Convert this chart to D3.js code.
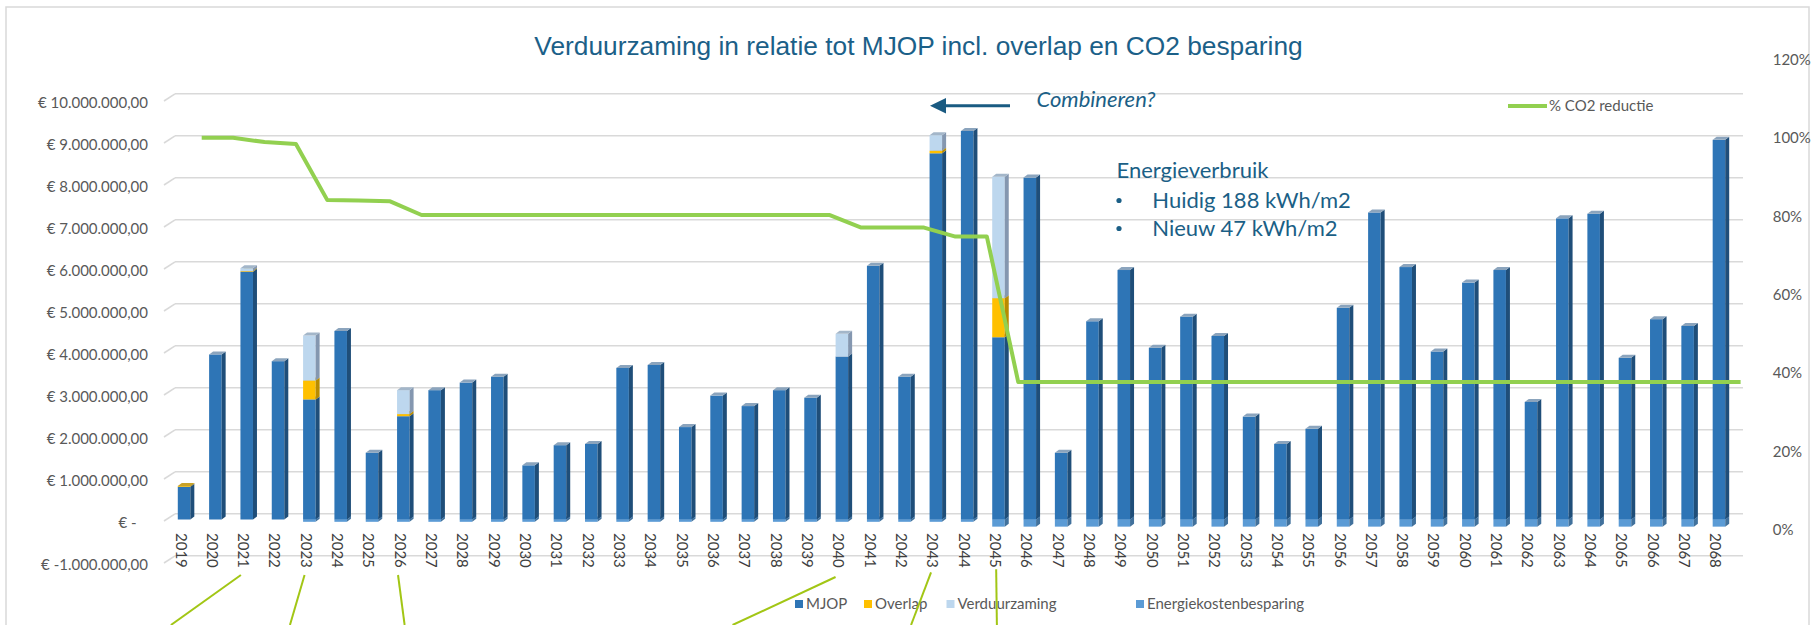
<!DOCTYPE html>
<html>
<head>
<meta charset="utf-8">
<script src="https://cdn.jsdelivr.net/npm/d3@7"></script>
<style>
  body { margin: 0; background: #fff; }
  svg { display: block; }
</style>
</head>
<body>
<script>
const w = 1812
const h = 625

// categories
const years = [2019, 2020, 2021, 2022, 2023, 2024, 2025, 2026, 2027, 2028,
  2029, 2030, 2031, 2032, 2033, 2034, 2035, 2036, 2037, 2038,
  2039, 2040, 2041, 2042, 2043, 2044, 2045, 2046, 2047, 2048,
  2049, 2050, 2051, 2052, 2053, 2054, 2055, 2056, 2057, 2058,
  2059, 2060, 2061, 2062, 2063, 2064, 2065, 2066, 2067, 2068]

// series (euro)
const mjop = [780000, 3930000, 5900000, 3770000, 2860000, 4490000, 1590000, 2460000, 3080000, 3260000,
  3400000, 1290000, 1770000, 1800000, 3610000, 3680000, 2200000, 2950000, 2700000, 3080000,
  2900000, 3880000, 6040000, 3400000, 8720000, 9250000, 4340000, 8140000, 1590000, 4720000,
  5940000, 4090000, 4830000, 4370000, 2450000, 1800000, 2160000, 5040000, 7310000, 6010000,
  4000000, 5640000, 5940000, 2800000, 7170000, 7280000, 3850000, 4770000, 4610000, 9040000]
const overlap = [20000, 0, 15000, 0, 450000, 0, 0, 50000, 0, 0,
  0, 0, 0, 0, 0, 0, 0, 0, 0, 0,
  0, 0, 0, 0, 60000, 0, 930000, 0, 0, 0,
  0, 0, 0, 0, 0, 0, 0, 0, 0, 0,
  0, 0, 0, 0, 0, 0, 0, 0, 0, 0]
const verduurzaming = [0, 0, 70000, 0, 1070000, 0, 0, 570000, 0, 0,
  0, 0, 0, 0, 0, 0, 0, 0, 0, 0,
  0, 540000, 0, 0, 370000, 0, 2890000, 0, 0, 0,
  0, 0, 0, 0, 0, 0, 0, 0, 0, 0,
  0, 0, 0, 0, 0, 0, 0, 0, 0, 0]
const energiekosten = [0, 0, 0, 0, -55000, -55000, -55000, -55000, -55000, -55000,
  -55000, -55000, -55000, -55000, -55000, -55000, -55000, -55000, -55000, -55000,
  -55000, -55000, -55000, -55000, -55000, -55000, -170000, -170000, -170000, -170000,
  -170000, -170000, -170000, -170000, -170000, -170000, -170000, -170000, -170000, -170000,
  -170000, -170000, -170000, -170000, -170000, -170000, -170000, -170000, -170000, -170000]

// % CO2 reductie (right axis)
const co2 = [100, 100, 98.9, 98.4, 84.1, 84.0, 83.8, 80.3, 80.3, 80.3,
  80.3, 80.3, 80.3, 80.3, 80.3, 80.3, 80.3, 80.3, 80.3, 80.3,
  80.3, 77.1, 77.1, 77.1, 74.8, 74.8, 37.7, 37.7, 37.7, 37.7,
  37.7, 37.7, 37.7, 37.7, 37.7, 37.7, 37.7, 37.7, 37.7, 37.7,
  37.7, 37.7, 37.7, 37.7, 37.7, 37.7, 37.7, 37.7, 37.7, 37.7]

// tick labels and texts
const leftTicks = [-1000000, 0, 1000000, 2000000, 3000000, 4000000, 5000000,
  6000000, 7000000, 8000000, 9000000, 10000000]
const rightTicks = [0, 20, 40, 60, 80, 100, 120]
const seriesNames = ['MJOP', 'Overlap', 'Verduurzaming', 'Energiekostenbesparing']
const lineName = '% CO2 reductie'
const title = 'Verduurzaming in relatie tot MJOP incl. overlap en CO2 besparing'
const noteTitle = 'Energieverbruik'
const noteLines = ['Huidig 188 kWh/m2', 'Nieuw 47 kWh/m2']
const arrowNote = 'Combineren?'
const pointerYears = [2021, 2023, 2026, 2040, 2043, 2045]

const colors = {
  MJOP: { front: '#2e75b6', side: '#1f4e79', top: '#8ba4bd' },
  Overlap: { front: '#ffc000', side: '#b88b00', top: '#c9a227' },
  Verduurzaming: { front: '#bdd7ee', side: '#8497b0', top: '#a3b6c9' },
  Energiekostenbesparing: { front: '#5b9bd5', side: '#41719c', top: '#5b9bd5' }
}
const grey = '#595959'
const blueText = '#1b5f86'
const dx = 4, dy = 3            // bar depth
const wallDx = 11, wallDy = 5.7 // back wall offset

const svg = d3.select('body').append('svg').attr('width', w).attr('height', h)
svg.append('rect').attr('width', w).attr('height', h).attr('fill', '#fff')
svg.append('rect').attr('x', 6).attr('y', 7).attr('width', 1803).attr('height', 660)
  .attr('fill', 'none').attr('stroke', '#d9d9d9').attr('stroke-width', 1.5)

const x = d3.scaleBand().domain(years).range([159, 1744]).paddingInner(0.6).paddingOuter(0.6)
const y = d3.scaleLinear().domain([-1000000, 10000000]).range([561.5, 99.5])
const yPct = d3.scaleLinear().domain([0, 120]).range([530, 59.3])
const xLine = d3.scalePoint().domain(years).range([201.7, 1740.6])
const bw = x.bandwidth()

// gridlines on the back wall + floor ticks
const grid = svg.append('g')
grid.selectAll('line.g').data(leftTicks).enter().append('line')
  .attr('x1', 164 + wallDx).attr('x2', 1743)
  .attr('y1', d => y(d) - wallDy).attr('y2', d => y(d) - wallDy)
  .attr('stroke', '#d9d9d9').attr('stroke-width', 1.6)
grid.selectAll('line.d').data(leftTicks).enter().append('line')
  .attr('x1', 164).attr('x2', 164 + wallDx)
  .attr('y1', d => y(d) + 1.5).attr('y2', d => y(d) - wallDy)
  .attr('stroke', '#d9d9d9').attr('stroke-width', 1.6)

// left axis
const nf = d3.formatLocale({ decimal: ',', thousands: '.', grouping: [3], currency: ['€ ', ''] }).format(',.2f')
const euro = v => v === 0 ? '€ -' : (v < 0 ? '€ -' + nf(-v) : '€ ' + nf(v))
svg.append('g').attr('transform', 'translate(148,3.5)')
  .call(d3.axisLeft(y).tickValues(leftTicks).tickFormat(euro).tickSize(0).tickPadding(0))
  .call(g => g.select('.domain').remove())
  .attr('font-family', 'Lato, sans-serif').attr('font-size', 15)
  .selectAll('text').attr('fill', grey).attr('dx', d => d === 0 ? -11.5 : 0)

// right axis
svg.append('g').attr('transform', 'translate(1772.7,0)')
  .call(d3.axisRight(yPct).tickValues(rightTicks).tickFormat(d => d + '%').tickSize(0).tickPadding(0))
  .call(g => g.select('.domain').remove())
  .attr('font-family', 'Lato, sans-serif').attr('font-size', 15)
  .selectAll('text').attr('fill', grey)

// category axis
svg.append('g').attr('transform', 'translate(-3.3,533)')
  .call(d3.axisBottom(x).tickSize(0).tickPadding(0))
  .call(g => g.select('.domain').remove())
  .attr('font-family', 'Lato, sans-serif').attr('font-size', 15)
  .selectAll('text')
  .attr('fill', '#404040').attr('x', 0).attr('y', 0).attr('dy', '0.35em')
  .attr('transform', 'rotate(90)').attr('text-anchor', 'start')

// stacked bars with a bit of depth
const segs = []
years.forEach((yr, i) => {
  const m = mjop[i], o = overlap[i], v = verduurzaming[i], e = energiekosten[i]
  if (e < 0) segs.push({ yr, key: 'Energiekostenbesparing', y0: e, y1: 0 })
  if (m > 0) segs.push({ yr, key: 'MJOP', y0: 0, y1: m })
  if (o > 0) segs.push({ yr, key: 'Overlap', y0: m, y1: m + o })
  if (v > 0) segs.push({ yr, key: 'Verduurzaming', y0: m + o, y1: m + o + v })
})
const seg = svg.append('g').selectAll('g').data(segs).enter().append('g')
seg.append('rect')
  .attr('x', d => x(d.yr)).attr('y', d => y(d.y1))
  .attr('width', bw).attr('height', d => y(d.y0) - y(d.y1))
  .attr('fill', d => colors[d.key].front)
seg.append('path')
  .attr('d', d => {
    const x1 = x(d.yr) + bw, t = y(d.y1), b = y(d.y0)
    return `M${x1},${t}L${x1 + dx},${t - dy}L${x1 + dx},${b - dy}L${x1},${b}Z`
  })
  .attr('fill', d => colors[d.key].side)
seg.append('path')
  .attr('d', d => {
    const x0 = x(d.yr), t = y(d.y1)
    return `M${x0},${t}L${x0 + dx},${t - dy}L${x0 + bw + dx},${t - dy}L${x0 + bw},${t}Z`
  })
  .attr('fill', d => colors[d.key].top)

// CO2 line
const line = d3.line().x((d, i) => xLine(years[i])).y(d => yPct(d))
svg.append('path').datum(co2).attr('d', line)
  .attr('fill', 'none').attr('stroke', '#92d050').attr('stroke-width', 4)
  .attr('stroke-linejoin', 'round')

// title
svg.append('text').attr('x', 918.5).attr('y', 55).attr('text-anchor', 'middle')
  .attr('font-family', '"Liberation Sans", Arial, sans-serif').attr('font-size', 26.3)
  .attr('fill', '#1b6088').text(title)

// top legend (line)
svg.append('line').attr('x1', 1508).attr('x2', 1547).attr('y1', 106).attr('y2', 106)
  .attr('stroke', '#92d050').attr('stroke-width', 4)
svg.append('text').attr('x', 1549).attr('y', 106).attr('dy', '0.35em')
  .attr('font-family', 'Lato, sans-serif').attr('font-size', 15).attr('fill', grey).text(lineName)

// bottom legend
const legendX = [795, 864, 946.5, 1136]
const lg = svg.append('g').selectAll('g').data(seriesNames).enter().append('g')
  .attr('transform', (d, i) => `translate(${legendX[i]},604)`)
lg.append('rect').attr('x', 0).attr('y', -4).attr('width', 8).attr('height', 8)
  .attr('fill', d => colors[d].front)
lg.append('text').attr('x', 11).attr('dy', '0.35em')
  .attr('font-family', 'Lato, sans-serif').attr('font-size', 15).attr('fill', grey).text(d => d)

// arrow + "Combineren?"
svg.append('line').attr('x1', 1010).attr('x2', 942).attr('y1', 105.7).attr('y2', 105.7)
  .attr('stroke', '#1a5b82').attr('stroke-width', 3)
svg.append('path').attr('d', 'M930,105.7L946,98L946,113.4Z').attr('fill', '#1a5b82')
svg.append('text').attr('x', 1036.5).attr('y', 106.7)
  .attr('font-family', 'Lato, sans-serif').attr('font-style', 'italic').attr('font-size', 22)
  .attr('fill', blueText).text(arrowNote)

// Energieverbruik note
const note = svg.append('g').attr('font-family', 'Lato, sans-serif').attr('font-size', 22).attr('fill', blueText)
note.append('text').attr('x', 1116.5).attr('y', 178.3).text(noteTitle)
noteLines.forEach((t, i) => {
  note.append('circle').attr('cx', 1119).attr('cy', 200.5 + i * 28).attr('r', 2.6)
  note.append('text').attr('x', 1152.3).attr('y', 207.7 + i * 28).text(t)
})

// pointer lines leading out of the chart (start below the year label, run to the edge)
const pointers = [
  { dxs: -5.8, y1: 575, ddx: -70, ddy: 50 },
  { dxs: -4.8, y1: 575, ddx: -14.6, ddy: 50 },
  { dxs: -5.3, y1: 575, ddx: 6.6, ddy: 50 },
  { dxs: -6.3, y1: 577, ddx: -103, ddy: 48 },
  { dxs: -4.8, y1: 572.3, ddx: -20, ddy: 52.7 },
  { dxs: -2.3, y1: 569.3, ddx: 0.7, ddy: 55.7 }
]
svg.append('g').selectAll('line').data(pointerYears).enter().append('line')
  .attr('x1', (d, i) => x(d) + bw / 2 + pointers[i].dxs)
  .attr('y1', (d, i) => pointers[i].y1)
  .attr('x2', (d, i) => x(d) + bw / 2 + pointers[i].dxs + pointers[i].ddx)
  .attr('y2', (d, i) => pointers[i].y1 + pointers[i].ddy)
  .attr('stroke', '#a2c615').attr('stroke-width', 2)
</script>
</body>
</html>
